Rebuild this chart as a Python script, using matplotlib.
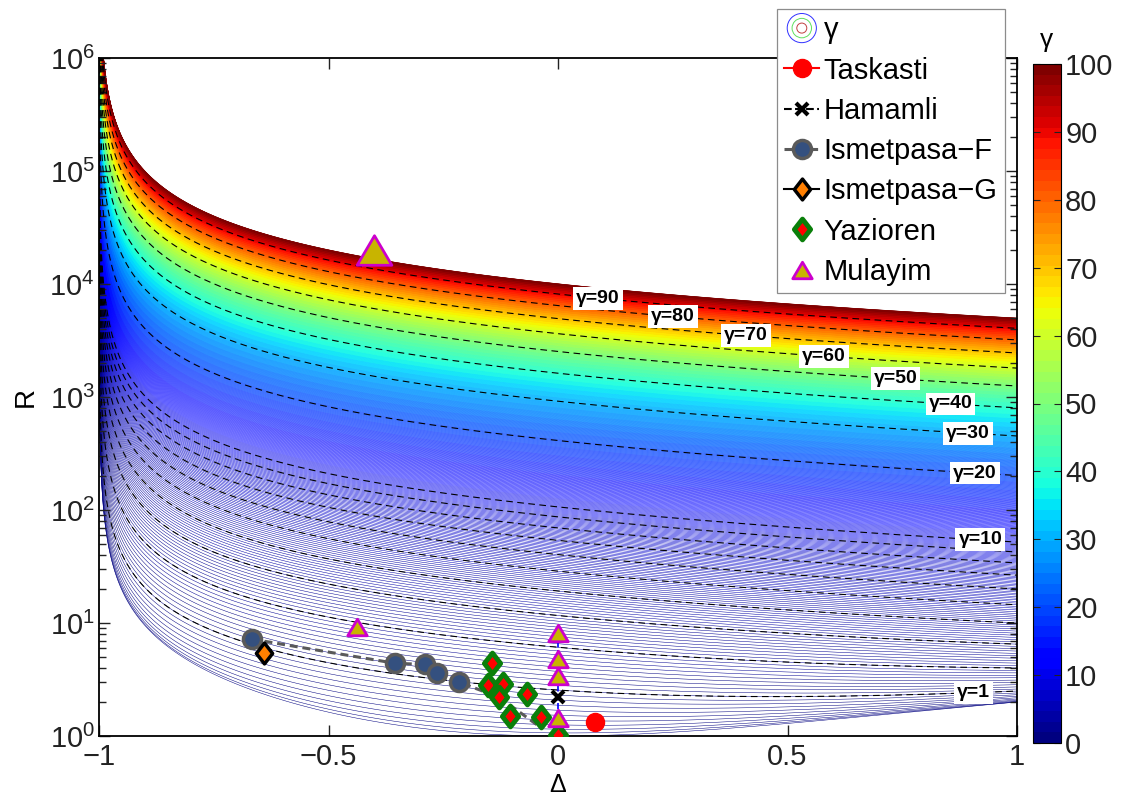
import numpy as np
import matplotlib
matplotlib.use("Agg")
import matplotlib.pyplot as plt
from matplotlib.collections import LineCollection
from matplotlib.colors import Normalize
from matplotlib.cm import ScalarMappable
from matplotlib.legend_handler import HandlerBase
from matplotlib.patches import Circle
from matplotlib.lines import Line2D
from matplotlib.path import Path

plt.rcParams['font.family'] = ['Liberation Sans', 'DejaVu Sans']

# observed sites: (Delta, R)
taskasti_d = [0.08]
taskasti_r = [1.33]
hamamli_d = [0.0]
hamamli_r = [2.2]
ismetF_d = [-0.667, -0.355, -0.290, -0.264, -0.216]
ismetF_r = [7.2, 4.4, 4.3, 3.6, 3.0]
ismetF_trend_d = [-0.128, -0.039]
ismetF_trend_r = [2.2, 1.2]
ismetG_d = [-0.64]
ismetG_r = [5.4]
yazioren_d = [-0.143, -0.152, -0.119, -0.129, -0.067, -0.105, -0.037, 0.0]
yazioren_r = [4.4, 2.8, 2.9, 2.2, 2.35, 1.51, 1.46, 1.02]
mulayim_d = [-0.437, 0.0, 0.0, 0.0, 0.0]
mulayim_r = [9.3, 8.1, 4.8, 3.4, 1.45]
mulayim_big_d = [-0.40]
mulayim_big_r = [2.0e4]

# gamma family
gammas = np.arange(0, 100.05, 0.1)
dashed_gammas = [1, 2, 3, 4, 5, 6, 7, 8, 9, 10, 20, 30, 40, 50, 60, 70, 80, 90]
label_gammas = [90, 80, 70, 60, 50, 40, 30, 20, 10, 1]
label_deltas = [0.087, 0.25, 0.41, 0.58, 0.735, 0.855, 0.893, 0.908, 0.92, 0.905]

xtick_vals = [-1, -0.5, 0, 0.5, 1]
xtick_text = ['\u22121', '\u22120.5', '0', '0.5', '1']
cbar_ticks = list(range(0, 101, 10))


def ratio(delta, gamma):
    base = 1 + delta**2 / (1 + delta) + 0.5 * delta**2
    return base + 0.55 * (1 - delta) * gamma + gamma**2 / (1 + delta)


s = np.linspace(0, 1, 1600)[1:]
delta = -1 + 2 * s**2

fig = plt.figure(figsize=(11.22, 7.96), dpi=100)
ax = fig.add_axes([99 / 1122, 60 / 796, 918 / 1122, 678 / 796])

cmap = plt.get_cmap('jet', 64)
norm = Normalize(0, 100)

segs = [np.column_stack([delta, ratio(delta, g)]) for g in gammas]
lc = LineCollection(segs, colors=cmap(norm(gammas)), linewidths=0.35, zorder=1)
ax.add_collection(lc)

for g in dashed_gammas:
    ax.plot(delta, ratio(delta, g), color='black', ls='--', lw=0.8,
            dashes=(6, 4), zorder=2)

for g, d in zip(label_gammas, label_deltas):
    ax.text(d, ratio(d, g), '\u03b3=%d' % g, fontsize=14, fontweight='bold',
            ha='center', va='center', zorder=3,
            bbox=dict(boxstyle='square,pad=0.15', fc='white', ec='none'))

# site markers
diamond = Path([(0, 1), (0.78, 0), (0, -1), (-0.78, 0), (0, 1)],
               [Path.MOVETO, Path.LINETO, Path.LINETO, Path.LINETO, Path.CLOSEPOLY])
tri = Path([(0, 0.85), (1, -0.85), (-1, -0.85), (0, 0.85)],
           [Path.MOVETO, Path.LINETO, Path.LINETO, Path.CLOSEPOLY])

ax.plot([0, 0], [mulayim_r[4], mulayim_r[1]], color='blue', ls='--', lw=1.2, zorder=4)

h_ismF, = ax.plot(ismetF_d + ismetF_trend_d, ismetF_r + ismetF_trend_r,
                  color='#5a5a5a', ls='--', lw=2.2, dashes=(2.6, 1.6),
                  marker='o', ms=13, mfc='#34507f', mec='#5a5a5a', mew=2.5,
                  markevery=list(range(len(ismetF_d))),
                  label='Ismetpasa\u2212F', zorder=5)
h_ismG, = ax.plot(ismetG_d, ismetG_r, color='black', ls='-', lw=1.5,
                  marker=diamond, ms=15, mfc='#ff7f00', mec='black', mew=2.5,
                  label='Ismetpasa\u2212G', zorder=6)
h_yaz, = ax.plot(yazioren_d, yazioren_r, ls='none', marker=diamond, ms=15,
                 mfc='red', mec='#0a7f0a', mew=3.5, label='Yazioren', zorder=6)
h_ham, = ax.plot(hamamli_d, hamamli_r, color='black', ls='--', lw=1.5,
                 marker='x', ms=9, mew=3, label='Hamamli', zorder=7)
h_mul, = ax.plot(mulayim_d, mulayim_r, ls='none', marker=tri, ms=14,
                 mfc='#c8b400', mec='#cc00cc', mew=2, label='Mulayim', zorder=7)
ax.plot(mulayim_big_d, mulayim_big_r, ls='none', marker=tri, ms=25,
        mfc='#c8b400', mec='#cc00cc', mew=2, zorder=7)
h_tas, = ax.plot(taskasti_d, taskasti_r, color='red', ls='-', lw=1.5,
                 marker='o', ms=13, mfc='red', mec='red', label='Taskasti', zorder=7)

ax.set_yscale('log')
ax.set_xlim(-1, 1)
ax.set_ylim(1, 1e6)
ax.set_xticks(xtick_vals)
ax.set_xticklabels(xtick_text)
ax.tick_params(which='both', direction='in', top=True, right=True, labelsize=21,
               colors='#222222', width=1)
ax.tick_params(axis='x', pad=5)
ax.tick_params(axis='y', pad=3)
ax.tick_params(which='major', length=8)
ax.tick_params(which='minor', length=5)
for sp in ax.spines.values():
    sp.set_linewidth(1.3)
ax.set_xlabel('\u0394', fontsize=18)
ax.xaxis.set_label_coords(0.5, -0.083)
ax.xaxis.label.set_va('baseline')
ax.set_ylabel('R', fontsize=20)
ax.yaxis.set_label_coords(-0.08, 0.5)
ax.yaxis.label.set_va('center')


class RingsHandler(HandlerBase):
    def create_artists(self, legend, orig_handle, xdescent, ydescent,
                       width, height, fontsize, trans):
        cx = width / 2 - xdescent
        cy = height / 2 - ydescent
        out = []
        for r, c in [(10.5, '#3030ff'), (7, '#60e060'), (3.6, '#c04040')]:
            out.append(Circle((cx, cy), r, fill=False, ec=c, lw=0.7, transform=trans))
        return out


rings = Line2D([], [])
handles = [rings, h_tas, h_ham, h_ismF, h_ismG, h_yaz, h_mul]
labels = ['\u03b3', 'Taskasti', 'Hamamli', 'Ismetpasa\u2212F', 'Ismetpasa\u2212G',
          'Yazioren', 'Mulayim']
leg = fig.legend(handles, labels, loc='upper left',
                 bbox_to_anchor=(777 / 1122, 1 - 9 / 796), bbox_transform=fig.transFigure,
                 fontsize=21, handlelength=1.2, handletextpad=0.15, borderpad=0.25,
                 labelspacing=0.42, borderaxespad=0, fancybox=False, framealpha=1,
                 edgecolor='#8c8c8c', handler_map={rings: RingsHandler()})
leg.get_frame().set_linewidth(0.9)

cax = fig.add_axes([1033 / 1122, 53 / 796, 28 / 1122, 679 / 796])
sm = ScalarMappable(norm=norm, cmap=cmap)
cb = fig.colorbar(sm, cax=cax, ticks=cbar_ticks)
cb.outline.set_linewidth(0.8)
cax.tick_params(direction='in', length=5, left=True, right=True, labelsize=21,
                colors='#222222', pad=3)
cax.set_title('\u03b3', fontsize=19, pad=12)

fig.savefig('out.png', dpi=100)
